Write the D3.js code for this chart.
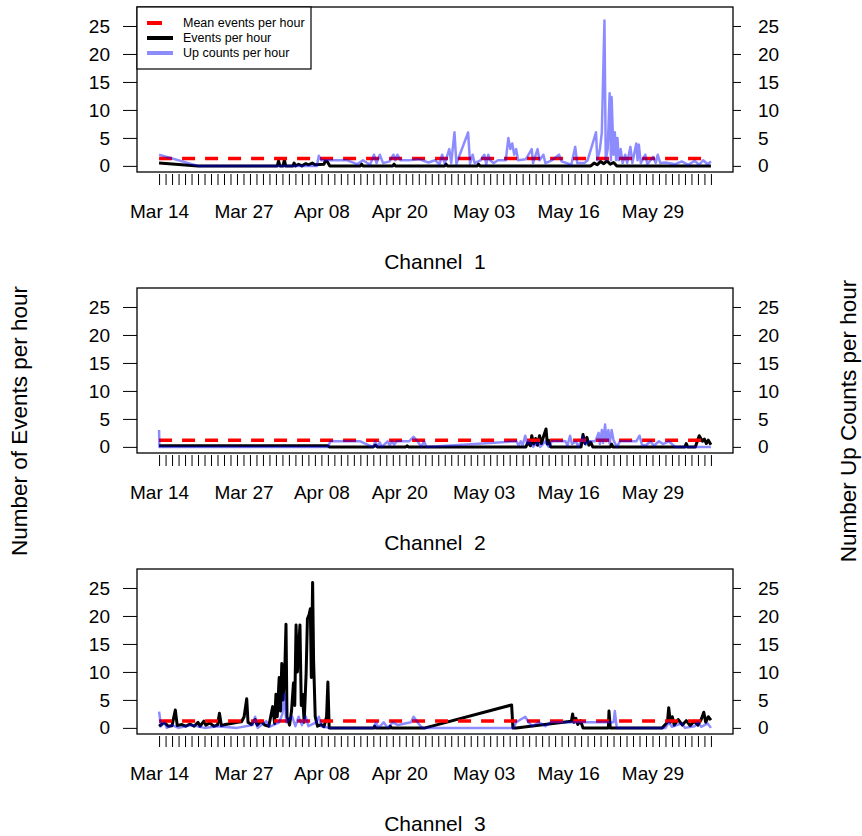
<!DOCTYPE html>
<html>
<head>
<meta charset="utf-8">
<script src="https://cdn.jsdelivr.net/npm/d3@7"></script>
<style>
  body { margin: 0; background: #fff; }
  svg text { font-family: "Liberation Sans", Arial, Helvetica, sans-serif; }
</style>
</head>
<body>
<div id="container"></div>
<script>
/* CONSTANTS AND GLOBALS */
const width = 862,
  height = 836,
  box = { left: 137, right: 733, height: 165 },
  panelTops = [7, 288, 569]

/* DATA */
// day offsets from Mar 14 and values
const startDate = new Date(2013, 2, 14)
const endDate = new Date(2013, 5, 7)
const tickLabels = ["Mar 14", "Mar 27", "Apr 08", "Apr 20", "May 03", "May 16", "May 29"]
const yTicks = [0, 5, 10, 15, 20, 25]
const channelNames = ["Channel  1", "Channel  2", "Channel  3"]
const meanEvents = [1.3, 1.2, 1.25]
const legendLabels = ["Mean events per hour", "Events per hour", "Up counts per hour"]

const events1 = [[0, 0.5], [6, 0], [18.2, 0], [18.4, 0.9], [18.6, 0], [19.1, 0], [19.3, 1.1], [19.5, 0],
  [20.6, 0], [20.8, 0.5], [21, 0], [21.5, 0.3], [22, 0], [22.6, 0.4], [23, 0.2], [23.6, 0.5], [24, 0.2],
  [25.4, 0.3], [25.7, 1.2], [26.3, 0], [31, 0], [31.2, 0.3], [31.4, 0], [36, 0], [36.2, 0.3], [36.4, 0],
  [44, 0], [44.2, 0.3], [44.4, 0], [49, 0], [49.2, 0.3], [49.4, 0], [66.5, 0], [67, 0.5], [67.5, 0.2],
  [68, 0.8], [68.5, 0.4], [69, 0.9], [69.5, 0.3], [70, 0.6], [70.5, 0], [85, 0]]

const upCounts1 = [[0, 2], [6, 0], [24.3, 0], [24.6, 1.8], [25, 1], [29, 1], [30.5, 0.3], [31.4, 1],
  [32.5, 0.2], [33.1, 2], [33.5, 0.5], [34, 2], [34.5, 0.5], [35.5, 0.8], [36.1, 2], [36.4, 1], [36.7, 2],
  [37.2, 1], [38.5, 1], [40, 1.2], [41.5, 0.6], [42.5, 1], [43.2, 0.3], [43.6, 2], [44, 0.4], [44.7, 3],
  [45, 0.5], [45.5, 6], [45.8, 0.3], [46, 1], [47.6, 6], [47.9, 0.4], [48.3, 2], [48.6, 0.5], [49.5, 1],
  [50.1, 2], [50.4, 0.3], [50.7, 2], [51, 1], [51.5, 0.5], [52.2, 1], [53.4, 1], [53.8, 5], [54.1, 3],
  [54.4, 4], [54.7, 2], [55, 3], [55.3, 1], [56.5, 1.2], [57.4, 3], [57.6, 0.5], [58.3, 3], [58.6, 1],
  [59.2, 2], [59.5, 0.5], [60.5, 1], [61.6, 2], [62, 0.8], [63.5, 0.2], [64.1, 3.4], [64.4, 0.5],
  [65.5, 0.5], [66, 1], [67.3, 6], [67.5, 1], [67.9, 3], [68.2, 6], [68.6, 26], [68.8, 1], [69.1, 3],
  [69.4, 13], [69.6, 1], [69.7, 12.3], [70, 2], [70.2, 6], [70.4, 1], [70.6, 5], [70.8, 1], [71.1, 3],
  [71.4, 0.5], [71.8, 2], [72.1, 0.5], [72.6, 3.4], [72.9, 0.5], [73.5, 4], [73.7, 1], [73.9, 3.8],
  [74.2, 0.5], [74.9, 2], [75.2, 0.3], [76.1, 1.6], [76.5, 0.5], [76.8, 2], [77.2, 0.5], [78, 0.6],
  [79.5, 0.3], [80.5, 0.8], [81.5, 0.2], [82.5, 0.9], [83.2, 0.2], [83.8, 1], [84.5, 0.3], [85, 0.8]]

const events2 = [[0, 0.2], [26, 0.2], [26.2, 0], [33, 0], [33.3, 0.3], [33.6, 0], [38, 0], [38.2, 0.2],
  [38.4, 0], [56.5, 0], [56.8, 0.8], [57.2, 0.2], [57.4, 2], [57.7, 0.5], [58, 1.5], [58.3, 0.3], [58.6, 2],
  [58.9, 0.6], [59.2, 1.8], [59.6, 3.2], [59.8, 0.5], [60, 1.2], [60.3, 0], [65, 0], [65.3, 2.2],
  [65.6, 0.6], [65.9, 1.7], [66.2, 0.3], [66.5, 0.8], [66.8, 0], [69.5, 0], [69.7, 0.5], [69.9, 0],
  [81, 0], [81.2, 0.6], [81.4, 0], [82.6, 0], [82.9, 1], [83.2, 2], [83.4, 1.6], [83.7, 1], [84, 1.4],
  [84.3, 0.6], [84.6, 1.2], [85, 0.4]]

const upCounts2 = [[0, 3], [0.05, 0], [26, 0], [26.4, 1], [31, 1], [32.5, 0.2], [33, 0], [33.3, 1],
  [33.6, 0], [34, 0.8], [34.3, 0], [35.2, 1], [35.5, 0.3], [35.9, 1], [36.2, 0.4], [36.6, 1], [38.5, 1],
  [39.2, 1.8], [39.8, 1], [40.4, 0], [40.8, 1], [41.2, 0], [55, 1], [55.4, 0.3], [55.7, 1], [56, 0.3],
  [56.4, 2], [56.7, 0.6], [57, 1], [57.6, 0], [58.3, 0.8], [58.7, 0], [59.5, 1], [60, 0], [60.5, 1],
  [62.6, 1], [62.9, 0.2], [63.3, 2], [63.6, 0.5], [64.2, 1], [64.6, 0], [65.3, 1.8], [65.7, 0.4],
  [66.2, 1], [67.2, 1], [67.7, 2.5], [67.9, 0.5], [68.2, 3], [68.4, 0.7], [68.7, 4], [68.9, 1], [69.2, 3],
  [69.4, 0.6], [69.7, 3], [70, 1.2], [70.5, 0], [71, 1], [73.5, 1], [74, 2], [74.4, 0.3], [75, 0.3],
  [75.7, 1], [76.2, 0.2], [77, 1], [77.6, 0.5], [78.5, 1], [79.5, 0], [85, 0]]

const events3 = [[0, 0.3], [0.8, 1], [1.4, 0.3], [2, 0.4], [2.5, 3.2], [2.8, 0.4], [3.5, 0.6], [4.1, 0.3],
  [4.75, 0.7], [5.4, 0.3], [6, 1], [6.3, 0.3], [6.9, 1.2], [7.2, 0.5], [7.8, 0.9], [8.4, 0.3], [9, 0.5],
  [9.3, 2.6], [9.6, 0.4], [10.2, 0.6], [11.1, 0.8], [12.1, 1], [12.7, 1.1], [13.1, 2], [13.5, 5.2],
  [13.7, 1], [14.2, 0.6], [14.8, 1.5], [15.1, 0.5], [15.7, 1.2], [16.3, 0.5], [16.9, 0.3], [17.5, 3.8],
  [17.8, 0.8], [18, 6], [18.2, 2], [18.5, 9], [18.7, 3], [18.9, 11.5], [19.1, 5], [19.4, 12], [19.55, 18.5],
  [19.7, 2], [20.1, 0.5], [20.4, 3], [20.7, 8], [20.9, 4], [21.1, 18.4], [21.3, 10], [21.5, 14],
  [21.7, 18.4], [21.9, 4], [22.1, 6], [22.35, 1], [22.65, 9.7], [22.85, 19.5], [23.1, 20.2], [23.3, 21.3],
  [23.45, 9], [23.65, 26], [23.8, 12], [24.05, 2], [24.4, 0.3], [25, 0.6], [25.4, 0.2], [25.8, 2],
  [26, 8.2], [26.2, 0], [33.1, 0], [33.2, 0.3], [33.4, 0], [35.5, 0], [35.6, 0.3], [35.8, 0], [41, 0],
  [54.3, 4.1], [54.5, 0], [55, 0], [63.5, 1.2], [63.7, 2.5], [63.9, 1], [64.2, 1.7], [64.5, 0.6],
  [64.9, 1.3], [65.3, 0], [69.2, 0], [69.3, 3], [69.5, 0], [77.5, 0], [78.3, 1], [78.5, 3.6], [78.75, 1],
  [79.05, 2], [79.35, 0.5], [79.95, 1.5], [80.6, 0.5], [81.2, 1.3], [81.8, 0.4], [82.4, 1.2], [83, 0.5],
  [83.5, 1.5], [83.9, 2.8], [84.2, 1], [84.6, 2], [85, 1.4]]

const upCounts3 = [[0, 2.9], [0.3, 0.3], [0.8, 1], [1.2, 0], [2, 0.5], [3, 0], [5, 0.5], [7, 0], [9, 0.3],
  [12, 0], [14.4, 0.5], [14.8, 2], [15.2, 0], [16.5, 1.2], [17, 0.2], [18.5, 1], [19, 2.5], [19.3, 6],
  [19.6, 1], [20.5, 2], [21, 0.3], [21.5, 2], [22, 0.5], [22.6, 2], [23, 0.3], [24.2, 1], [24.6, 2],
  [25, 0.3], [26.2, 0], [33, 0], [33.4, 1], [33.8, 0], [34.6, 1], [35.2, 0], [36, 1], [36.8, 0.5],
  [38.8, 1], [39.2, 2], [39.8, 1], [40.5, 0], [54.6, 0], [55, 1], [56.4, 2], [56.9, 1], [57.5, 0.3],
  [58.5, 1], [59.5, 0.3], [60.3, 1], [70, 1], [70.2, 3], [70.5, 0], [78, 0], [78.5, 1], [79, 0.2],
  [80.5, 0.8], [81, 0], [82.5, 0.3], [83, 1], [83.5, 0.2], [84.5, 0.8], [85, 0]]

const eventsByChannel = [events1, events2, events3]
const upCountsByChannel = [upCounts1, upCounts2, upCounts3]

const toDate = day => d3.timeMinute.offset(startDate, Math.round(day * 1440))

/* SCALES */
const span = endDate - startDate
const xScale = d3.scaleTime()
  .domain([new Date(+startDate - span * 0.04), new Date(+endDate + span * 0.04)])
  .range([box.left, box.right])

const parseLabel = d3.timeParse("%b %d %Y")
const labelSet = new Set(tickLabels.map(l => +parseLabel(l + " 2013")))
const dayTicks = d3.timeDay.range(startDate, d3.timeDay.offset(endDate, 1))
const fmt = d3.timeFormat("%b %d")

const svg = d3.select("#container")
  .append("svg")
  .attr("width", width)
  .attr("height", height)

panelTops.forEach((top, i) => {
  const yScale = d3.scaleLinear()
    .domain([-1.092, 28.392])
    .range([top + box.height, top])

  const g = svg.append("g").attr("class", "panel")

  const line = d3.line()
    .x(d => xScale(toDate(d[0])))
    .y(d => yScale(d[1]))

  // events per hour
  g.append("path")
    .datum(eventsByChannel[i])
    .attr("d", line)
    .attr("fill", "none")
    .attr("stroke", "black")
    .attr("stroke-width", 3)
    .attr("stroke-linejoin", "round")

  // mean line
  g.append("line")
    .attr("x1", xScale(startDate))
    .attr("x2", xScale(endDate))
    .attr("y1", yScale(meanEvents[i]))
    .attr("y2", yScale(meanEvents[i]))
    .attr("stroke", "red")
    .attr("stroke-width", 3.5)
    .attr("stroke-dasharray", "13,10")

  // up counts per hour
  g.append("path")
    .datum(upCountsByChannel[i])
    .attr("d", line)
    .attr("fill", "none")
    .attr("stroke", "rgba(0,0,255,0.45)")
    .attr("stroke-width", 2.5)
    .attr("stroke-linejoin", "round")

  // box
  g.append("rect")
    .attr("x", box.left)
    .attr("y", top)
    .attr("width", box.right - box.left)
    .attr("height", box.height)
    .attr("fill", "none")
    .attr("stroke", "black")
    .attr("stroke-width", 1.3)

  // AXES
  const xAxis = d3.axisBottom(xScale)
    .tickValues(dayTicks)
    .tickSize(11)
    .tickPadding(20)
    .tickFormat(d => labelSet.has(+d) ? fmt(d) : "")
  g.append("g")
    .attr("class", "x-axis")
    .attr("transform", `translate(0, ${top + box.height + 2})`)
    .call(xAxis)
    .call(a => a.select(".domain").remove())

  g.append("g")
    .attr("class", "y-axis")
    .attr("transform", `translate(${box.left}, 0)`)
    .call(d3.axisLeft(yScale).tickValues(yTicks).tickSize(14).tickPadding(13))
    .call(a => a.select(".domain").remove())

  g.append("g")
    .attr("class", "y-axis-right")
    .attr("transform", `translate(${box.right}, 0)`)
    .call(d3.axisRight(yScale).tickValues(yTicks).tickSize(8).tickPadding(17))
    .call(a => a.select(".domain").remove())

  g.selectAll(".tick line").attr("stroke", "black")
  g.selectAll(".tick text")
    .attr("font-size", 19)
    .attr("fill", "black")
    .style("font-family", "'Liberation Sans', Arial, Helvetica, sans-serif")

  // title
  g.append("text")
    .attr("x", (box.left + box.right) / 2)
    .attr("y", top + 262)
    .attr("text-anchor", "middle")
    .attr("font-size", 21)
    .style("white-space", "pre")
    .text(channelNames[i])
})

/* LEGEND */
const legend = svg.append("g").attr("class", "legend")
legend.append("rect")
  .attr("x", box.left)
  .attr("y", panelTops[0])
  .attr("width", 174)
  .attr("height", 62)
  .attr("fill", "white")
  .attr("stroke", "black")
  .attr("stroke-width", 1.2)

const legendStyles = [
  { color: "red", dash: "15,12" },
  { color: "black", dash: null },
  { color: "rgba(0,0,255,0.45)", dash: null }
]
legendLabels.forEach((label, i) => {
  const y = panelTops[0] + 16 + i * 15
  legend.append("line")
    .attr("x1", box.left + 10)
    .attr("x2", box.left + 36)
    .attr("y1", y)
    .attr("y2", y)
    .attr("stroke", legendStyles[i].color)
    .attr("stroke-width", 4)
    .attr("stroke-dasharray", legendStyles[i].dash)
  legend.append("text")
    .attr("x", box.left + 46)
    .attr("y", y)
    .attr("dy", "0.35em")
    .attr("font-size", 12.5)
    .text(label)
})

/* OUTER LABELS */
svg.append("text")
  .attr("transform", `translate(27, 421) rotate(-90)`)
  .attr("text-anchor", "middle")
  .attr("font-size", 22.5)
  .text("Number of Events per hour")

svg.append("text")
  .attr("transform", `translate(856, 421) rotate(-90)`)
  .attr("text-anchor", "middle")
  .attr("font-size", 22.5)
  .text("Number Up Counts per hour")
</script>
</body>
</html>
